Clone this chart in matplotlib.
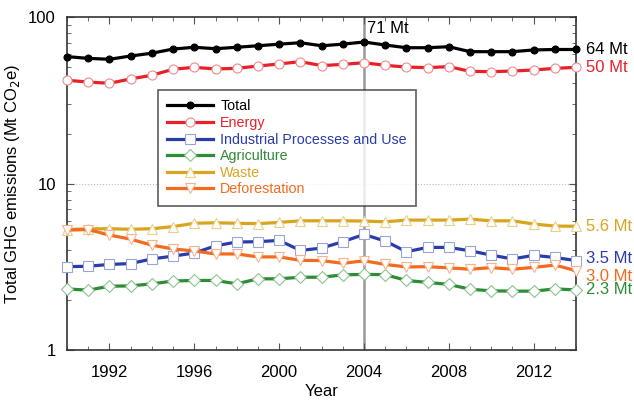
import matplotlib

matplotlib.use("Agg")
import matplotlib.pyplot as plt
from matplotlib.ticker import LogLocator, MultipleLocator, NullFormatter, FixedLocator

plt.rcParams["font.family"] = ["Liberation Sans", "DejaVu Sans"]

years = list(range(1990, 2015))

total = [58, 56.6, 55.9, 58.5, 60.8, 64.4, 66, 64.7, 66, 67.4, 68.9, 70.3, 67.4,
         68.9, 71, 68.1, 65.6, 65.6, 66.5, 62.1, 62.1, 62.1, 63.6, 64, 64]
energy = [41.8, 40.8, 40.1, 42.6, 44.8, 48.7, 50, 48.9, 49.3, 50.9, 52.4, 54.1, 51.2,
          52.1, 53.3, 51.4, 50.2, 49.8, 50.5, 47.3, 47.1, 47.5, 48.2, 49.3, 50]
industrial = [3.17, 3.19, 3.27, 3.31, 3.53, 3.67, 3.83, 4.23, 4.46, 4.48, 4.56, 3.97, 4.1,
              4.48, 4.95, 4.52, 3.9, 4.14, 4.14, 3.95, 3.72, 3.53, 3.71, 3.6, 3.45]
agriculture = [2.33, 2.29, 2.42, 2.43, 2.5, 2.6, 2.62, 2.62, 2.5, 2.68, 2.68, 2.74, 2.74,
               2.83, 2.85, 2.84, 2.62, 2.55, 2.48, 2.32, 2.27, 2.26, 2.26, 2.33, 2.3]
waste = [5.3, 5.35, 5.36, 5.32, 5.36, 5.52, 5.78, 5.82, 5.78, 5.75, 5.85, 5.98, 5.98,
         5.98, 5.96, 5.9, 6.04, 6.04, 6.04, 6.12, 5.98, 5.98, 5.72, 5.56, 5.55]
deforestation = [5.26, 5.3, 4.91, 4.64, 4.27, 4.05, 3.94, 3.78, 3.78, 3.63, 3.63, 3.46, 3.45,
                 3.32, 3.44, 3.27, 3.16, 3.17, 3.12, 3.06, 3.13, 3.06, 3.14, 3.24, 3.0]

end_labels = ["64 Mt", "50 Mt", "3.5 Mt", "2.3 Mt", "5.6 Mt", "3.0 Mt"]
# small vertical nudges (points) so the end labels don't collide
end_nudge = [0, 0, 1.5, 0, 0, -4]
peak_label = "71 Mt"


def build_plot():
    fig = plt.figure(figsize=(6.34, 4.01), dpi=100)
    ax = fig.add_axes([0.1057, 0.127, 0.803, 0.830])

    series = [
        ("Total", total, "black", "o", "black", "black"),
        ("Energy", energy, "#e8202a", "o", "white", "#f08a8a"),
        ("Industrial Processes and Use", industrial, "#2a3ca8", "s", "white", "#9aa4dc"),
        ("Agriculture", agriculture, "#2e8b36", "D", "white", "#8cc48f"),
        ("Waste", waste, "#d9a521", "^", "white", "#ecd08a"),
        ("Deforestation", deforestation, "#f26b1f", "v", "white", "#f7b58f"),
    ]

    ax.axhline(10, color="#bbbbbb", lw=0.8, ls=":", zorder=0)
    ax.axvline(2004, color="#999999", lw=1.8, zorder=1)

    for name, vals, col, mk, face, edge in series:
        ms = 5 if face == "black" else 6.5
        if mk == "D":
            ms = 6
        ax.plot(years, vals, color=col, lw=2.3, marker=mk, ms=ms,
                mfc=face, mec=edge, mew=0.8, label=name, zorder=3, clip_on=False)

    ax.set_yscale("log")
    ax.set_ylim(1, 100)
    ax.set_xlim(1990, 2014)
    ax.xaxis.set_major_locator(FixedLocator([1992, 1996, 2000, 2004, 2008, 2012]))
    ax.xaxis.set_minor_locator(MultipleLocator(1))
    ax.yaxis.set_major_locator(FixedLocator([1, 10, 100]))
    ax.yaxis.set_major_formatter(plt.FuncFormatter(lambda v, p: f"{v:g}"))
    ax.yaxis.set_minor_locator(LogLocator(base=10, subs=range(2, 10)))
    ax.yaxis.set_minor_formatter(NullFormatter())
    ax.tick_params(which="both", direction="in", top=True, right=True,
                   labelsize=12, color="#555555")
    ax.tick_params(which="major", length=5)
    ax.tick_params(axis="x", which="major", pad=11)
    ax.tick_params(axis="y", which="major", pad=8)
    ax.tick_params(which="minor", length=3)
    for s in ax.spines.values():
        s.set_linewidth(1.2)
        s.set_color("#333333")

    ax.set_xlabel("Year", fontsize=12)
    ax.set_ylabel("Total GHG emissions (Mt CO$_2$e)", fontsize=12)
    ax.xaxis.set_label_coords(0.5, -0.102)
    ax.yaxis.set_label_coords(-0.088, 0.5)

    for (name, vals, col, *_), lab, dy in zip(series, end_labels, end_nudge):
        ax.annotate(lab, (2014, vals[-1]), xytext=(7, dy), textcoords="offset points",
                    color=col, fontsize=12, va="center", ha="left",
                    annotation_clip=False)
    ax.annotate(peak_label, (2004, 100), xytext=(2, -3), textcoords="offset points",
                fontsize=12, va="top", ha="left")

    leg = ax.legend(loc="upper left", bbox_to_anchor=(0.179, 0.781), fontsize=10.3,
                    frameon=True, fancybox=False, edgecolor="#333333",
                    borderaxespad=0, handlelength=3.2, labelspacing=0.18,
                    borderpad=0.65, handletextpad=0.5)
    leg.get_frame().set_linewidth(1.2)
    for text, (_, _, col, *_) in zip(leg.get_texts(), series):
        text.set_color(col)
    return fig, ax


def main():
    fig, _ = build_plot()
    fig.savefig("out.png", dpi=100)


if __name__ == "__main__":
    main()
